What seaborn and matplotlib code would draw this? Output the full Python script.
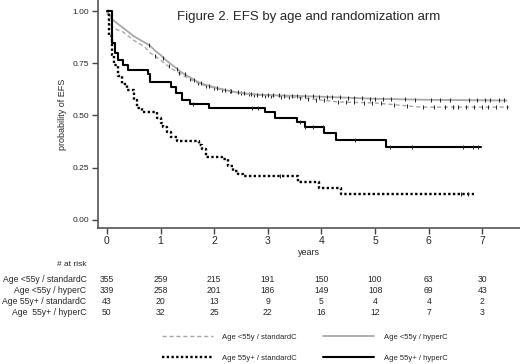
import numpy as np
import matplotlib
matplotlib.use('Agg')
import matplotlib.pyplot as plt
import seaborn as sns
from matplotlib.lines import Line2D

sns.set_style('ticks')
plt.rcParams['font.family'] = ['Liberation Sans', 'DejaVu Sans']

# 各组 EFS 曲线 (时间, 生存概率)
t_young_std = [0, 0.03, 0.08, 0.15, 0.3, 0.4, 0.5, 0.6, 0.7, 0.8, 0.9, 1.0, 1.1, 1.2, 1.3, 1.4, 1.5,
               1.6, 1.7, 1.8, 2.0, 2.2, 2.4, 2.6, 2.8, 3.0, 3.6, 4.3, 5.0, 5.85, 7.5]
s_young_std = [1.0, 0.96, 0.93, 0.915, 0.90, 0.88, 0.86, 0.845, 0.83, 0.80, 0.785, 0.765, 0.745, 0.725,
               0.71, 0.695, 0.68, 0.668, 0.655, 0.645, 0.632, 0.62, 0.61, 0.603, 0.598, 0.595, 0.585,
               0.565, 0.56, 0.54, 0.54]
t_young_hyp = [0, 0.05, 0.1, 0.2, 0.3, 0.4, 0.5, 0.6, 0.7, 0.8, 0.9, 1.0, 1.1, 1.2, 1.3, 1.4, 1.5, 1.6,
               1.7, 1.8, 2.0, 2.2, 2.4, 2.6, 2.8, 3.0, 4.0, 5.0, 6.0, 7.45]
s_young_hyp = [1.0, 0.98, 0.96, 0.94, 0.92, 0.90, 0.88, 0.865, 0.85, 0.835, 0.81, 0.79, 0.765, 0.745,
               0.725, 0.705, 0.69, 0.675, 0.66, 0.65, 0.635, 0.622, 0.612, 0.605, 0.60, 0.598, 0.59,
               0.58, 0.575, 0.572]
t_old_std = [0, 0.04, 0.09, 0.13, 0.2, 0.28, 0.38, 0.5, 0.56, 0.65, 0.93, 1.0, 1.05, 1.12, 1.2, 1.3,
             1.72, 1.78, 1.85, 2.15, 2.25, 2.35, 2.45, 2.54, 3.56, 3.96, 4.37, 6.85]
s_old_std = [1.0, 0.88, 0.79, 0.74, 0.69, 0.65, 0.62, 0.575, 0.535, 0.515, 0.49, 0.465, 0.445, 0.42,
             0.395, 0.38, 0.36, 0.34, 0.30, 0.29, 0.26, 0.235, 0.22, 0.21, 0.18, 0.153, 0.124, 0.124]
t_old_hyp = [0, 0.09, 0.15, 0.2, 0.3, 0.4, 0.77, 0.8, 1.2, 1.28, 1.4, 1.55, 1.9, 2.95, 3.13, 3.54,
             3.7, 4.05, 4.27, 5.2, 6.98]
s_old_hyp = [1.0, 0.847, 0.80, 0.765, 0.74, 0.72, 0.70, 0.66, 0.636, 0.61, 0.575, 0.555, 0.535, 0.515,
             0.49, 0.47, 0.445, 0.415, 0.383, 0.35, 0.35]

# 删失时间
c_young_std = [0.9, 1.15, 1.35, 1.55, 1.7, 1.85, 2.0, 2.15, 2.3, 2.5, 2.65, 2.75, 2.95, 3.05, 3.25,
               3.4, 3.6, 3.75, 3.9, 4.05, 4.3, 4.45, 4.6, 4.8, 4.95, 5.1, 5.35, 5.6, 5.9, 6.1, 6.3,
               6.45, 6.55, 6.7, 6.85, 7.0, 7.1, 7.25, 7.45]
c_young_hyp = [0.78, 1.05, 1.3, 1.45, 1.62, 1.75, 1.9, 2.05, 2.2, 2.32, 2.45, 2.55, 2.68, 2.8, 2.9,
               3.0, 3.1, 3.2, 3.3, 3.45, 3.55, 3.7, 3.85, 3.95, 4.1, 4.2, 4.35, 4.5, 4.6, 4.75, 4.9,
               5.0, 5.15, 5.3, 5.55, 5.75, 6.05, 6.2, 6.4, 6.75, 6.9, 7.05, 7.15, 7.3, 7.4]
c_old_std = [3.23, 6.6, 6.73]
c_old_hyp = [1.6, 2.7, 2.82, 3.6, 3.7, 3.84, 4.03, 4.63, 5.28, 5.69, 6.64, 6.83, 6.92]

# 风险人数表
risk_years = [0, 1, 2, 3, 4, 5, 6, 7]
risk_labels = ['Age <55y / standardC', 'Age <55y / hyperC', 'Age 55y+ / standardC', 'Age  55y+ / hyperC']
risk_young_std = [355, 259, 215, 191, 150, 100, 63, 30]
risk_young_hyp = [339, 258, 201, 186, 149, 108, 69, 43]
risk_old_std = [43, 20, 13, 9, 5, 4, 4, 2]
risk_old_hyp = [50, 32, 25, 22, 16, 12, 7, 3]

# 名称, 时间, 生存率, 删失, 颜色, 线型, 线宽, 绘制方式
groups = [
    ('Age <55y / standardC', t_young_std, s_young_std, c_young_std, '#a8a8a8', (0, (3, 2)), 1.0, 'default'),
    ('Age <55y / hyperC', t_young_hyp, s_young_hyp, c_young_hyp, '#a8a8a8', '-', 1.3, 'default'),
    ('Age 55y+ / standardC', t_old_std, s_old_std, c_old_std, 'black', (0, (1, 1)), 1.7, 'steps-post'),
    ('Age 55y+ / hyperC', t_old_hyp, s_old_hyp, c_old_hyp, 'black', '-', 1.5, 'steps-post'),
]

fig = plt.figure(figsize=(5.2, 3.64), dpi=100)
ax = fig.add_axes([0.188, 0.374, 0.812, 0.626])

handles = {}
for name, t, s, cens, color, ls, lw, ds in groups:
    sns.lineplot(x=t, y=s, drawstyle=ds, color=color, linestyle=ls, linewidth=lw,
                 ax=ax, estimator=None, sort=False)
    # 删失标记
    if ds == 'steps-post':
        idx = np.searchsorted(t, cens, side='right') - 1
        cy = np.array(s)[idx]
    else:
        cy = np.interp(cens, t, s)
    ax.plot(cens, cy, linestyle='none', marker='|', markersize=3.5, markeredgewidth=0.7,
            color='#222222')
    handles[name] = Line2D([0], [0], color=color, linestyle=ls, linewidth=lw)

ax.set_xlim(-0.17, 7.7)
ax.set_ylim(-0.038, 1.053)
ax.set_xticks(risk_years)
ax.set_yticks([0, 0.25, 0.5, 0.75, 1.0])
ax.set_yticklabels(['0.00', '0.25', '0.50', '0.75', '1.00'], fontsize=6)
ax.set_xticklabels([str(y) for y in risk_years], fontsize=7.5)
ax.tick_params(axis='both', length=4, width=1.0, color='#444444', pad=2)
for sp in ['top', 'right']:
    ax.spines[sp].set_visible(False)
for sp in ['left', 'bottom']:
    ax.spines[sp].set_color('#555555')
    ax.spines[sp].set_linewidth(1.2)
ax.set_xlabel('years', fontsize=6.5, labelpad=1)
ax.set_ylabel('probability of EFS', fontsize=6.5, labelpad=4)
ax.text(0.5, 0.925, 'Figure 2. EFS by age and randomization arm', transform=ax.transAxes,
        ha='center', va='center', fontsize=9.5)

# 风险人数表
trans = ax.get_xaxis_transform()
ax.text(-0.38, -0.162, '# at risk', transform=trans, ha='right', va='center', fontsize=6)
rows = [risk_young_std, risk_young_hyp, risk_old_std, risk_old_hyp]
for i, (lab, vals) in enumerate(zip(risk_labels, rows)):
    yy = -0.228 - i * 0.0485
    ax.text(-0.38, yy, lab, transform=trans, ha='right', va='center', fontsize=6.2)
    for x, v in zip(risk_years, vals):
        ax.text(x, yy, str(v), transform=trans, ha='center', va='center', fontsize=6.2)

order = ['Age <55y / standardC', 'Age 55y+ / standardC', 'Age <55y / hyperC', 'Age 55y+ / hyperC']
fig.legend([handles[k] for k in order], order, ncol=2, loc='center',
           bbox_to_anchor=(0.586, 0.045), frameon=False, fontsize=5.5,
           handlelength=6.7, handletextpad=1.2, columnspacing=3.4, labelspacing=1.8)

fig.savefig('out.png', dpi=100)
